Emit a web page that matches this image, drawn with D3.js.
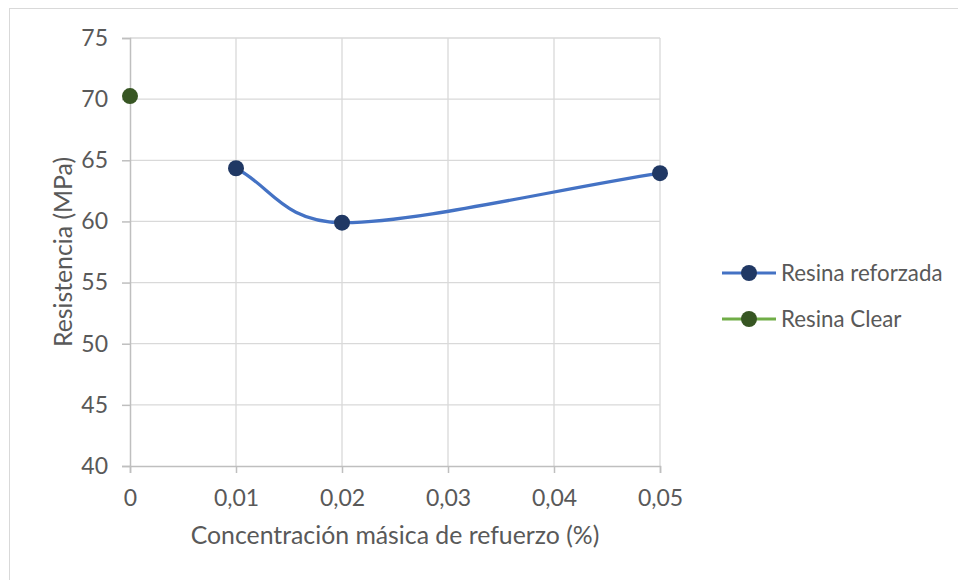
<!DOCTYPE html>
<html>
<head>
<meta charset="utf-8">
<script src="https://cdn.jsdelivr.net/npm/d3@7"></script>
<style>
  body { margin: 0; background: #fff; }
  svg text { font-family: Lato, "Open Sans", sans-serif; fill: #595959; }
</style>
</head>
<body>
<div id="chart"></div>
<script>
// data
const concReforzada = [0.01, 0.02, 0.05];
const resReforzada = [64.35, 59.9, 63.95];
const concClear = [0];
const resClear = [70.25];
const xTicks = [0, 0.01, 0.02, 0.03, 0.04, 0.05];
const yTicks = [40, 45, 50, 55, 60, 65, 70, 75];
const seriesNames = ["Resina reforzada", "Resina Clear"];

const svgWidth = 958, svgHeight = 580;
const margin = { top: 38, right: 298, bottom: 114, left: 130 };
const width = svgWidth - margin.left - margin.right;   // 530
const height = svgHeight - margin.top - margin.bottom; // 428

const svg = d3.select("#chart").append("svg")
    .attr("width", svgWidth)
    .attr("height", svgHeight);

// chart area border (only top/left visible in the crop)
svg.append("rect")
    .attr("x", 9.5).attr("y", 8.5)
    .attr("width", 1000).attr("height", 1000)
    .attr("fill", "none")
    .attr("stroke", "#d9d9d9");

const g = svg.append("g")
    .attr("transform", `translate(${margin.left}, ${margin.top})`);

const x = d3.scaleLinear().domain([0, 0.05]).range([0, width]);
const y = d3.scaleLinear().domain([40, 75]).range([height, 0]);

const fmt = d => d === 0 ? "0" : d3.format(".2f")(d).replace(".", ",");

// gridlines
g.append("g").selectAll("line").data(yTicks.slice(1)).enter().append("line")
    .attr("x1", 0).attr("x2", width)
    .attr("y1", d => y(d)).attr("y2", d => y(d))
    .attr("stroke", "#d9d9d9").attr("stroke-width", 1.3);
g.append("g").selectAll("line").data(xTicks.slice(1)).enter().append("line")
    .attr("x1", d => x(d)).attr("x2", d => x(d))
    .attr("y1", 0).attr("y2", height)
    .attr("stroke", "#d9d9d9").attr("stroke-width", 1.3);

// axes
const xAxis = g.append("g")
    .attr("transform", `translate(0, ${height})`)
    .call(d3.axisBottom(x).tickValues(xTicks).tickFormat(fmt).tickSize(7).tickPadding(17));
const yAxis = g.append("g")
    .call(d3.axisLeft(y).tickValues(yTicks).tickSize(8).tickPadding(14));

[xAxis, yAxis].forEach(a => {
    a.select(".domain").attr("stroke", "#bfbfbf").attr("stroke-width", 1.5);
    a.selectAll(".tick line").attr("stroke", "#bfbfbf").attr("stroke-width", 1.5);
    a.selectAll(".tick text").style("font-size", "23px").attr("fill", "#595959");
});
xAxis.selectAll(".tick text").attr("dy", "0.7em");

// Excel-like smoothed line: bezier segments, 1/6 tangents, reflected end points,
// tangent length capped at half the segment length
function smoothPath(pts) {
    const p = d3.path();
    const n = pts.length;
    const get = i => {
        if (i < 0) return [2 * pts[0][0] - pts[1][0], 2 * pts[0][1] - pts[1][1]];
        if (i >= n) return [2 * pts[n - 1][0] - pts[n - 2][0], 2 * pts[n - 1][1] - pts[n - 2][1]];
        return pts[i];
    };
    const dist = (a, b) => Math.hypot(b[0] - a[0], b[1] - a[1]);
    p.moveTo(pts[0][0], pts[0][1]);
    for (let i = 0; i < n - 1; i++) {
        const p0 = get(i - 1), p1 = get(i), p2 = get(i + 1), p3 = get(i + 2);
        const half = dist(p1, p2) / 2;
        let f1 = 1 / 6, f2 = 1 / 6;
        if (dist(p0, p2) * f1 > half) f1 = half / dist(p0, p2);
        if (dist(p1, p3) * f2 > half) f2 = half / dist(p1, p3);
        p.bezierCurveTo(
            p1[0] + (p2[0] - p0[0]) * f1, p1[1] + (p2[1] - p0[1]) * f1,
            p2[0] - (p3[0] - p1[0]) * f2, p2[1] - (p3[1] - p1[1]) * f2,
            p2[0], p2[1]);
    }
    return p.toString();
}

const ptsR = concReforzada.map((c, i) => [c, resReforzada[i]]);

g.append("path")
    .attr("d", smoothPath(ptsR.map(d => [x(d[0]), y(d[1])])))
    .attr("fill", "none")
    .attr("stroke", "#4472c4")
    .attr("stroke-width", 3.2);

g.selectAll(".ptR").data(ptsR).enter().append("circle")
    .attr("cx", d => x(d[0])).attr("cy", d => y(d[1]))
    .attr("r", 8).attr("fill", "#203864");

const ptsC = concClear.map((c, i) => [c, resClear[i]]);
g.selectAll(".ptC").data(ptsC).enter().append("circle")
    .attr("cx", d => x(d[0])).attr("cy", d => y(d[1]))
    .attr("r", 8).attr("fill", "#375623");

// axis titles
svg.append("text")
    .attr("x", 395).attr("y", 544)
    .attr("text-anchor", "middle")
    .style("font-size", "24.8px")
    .text("Concentración másica de refuerzo (%)");

svg.append("text")
    .attr("transform", `translate(72, ${margin.top + height / 2}) rotate(-90)`)
    .attr("text-anchor", "middle")
    .style("font-size", "24.8px")
    .text("Resistencia (MPa)");

// legend
const legendColors = [["#4472c4", "#203864"], ["#70ad47", "#375623"]];
const legend = svg.append("g").attr("transform", "translate(722, 273)");
seriesNames.forEach((name, i) => {
    const row = legend.append("g").attr("transform", `translate(0, ${i * 46})`);
    row.append("line").attr("x1", 0).attr("x2", 54).attr("y1", 0).attr("y2", 0)
        .attr("stroke", legendColors[i][0]).attr("stroke-width", 3.2);
    row.append("circle").attr("cx", 27).attr("cy", 0).attr("r", 8)
        .attr("fill", legendColors[i][1]);
    row.append("text").attr("x", 59).attr("y", 0).attr("dy", "0.35em")
        .style("font-size", "22.3px").text(name);
});
</script>
</body>
</html>
